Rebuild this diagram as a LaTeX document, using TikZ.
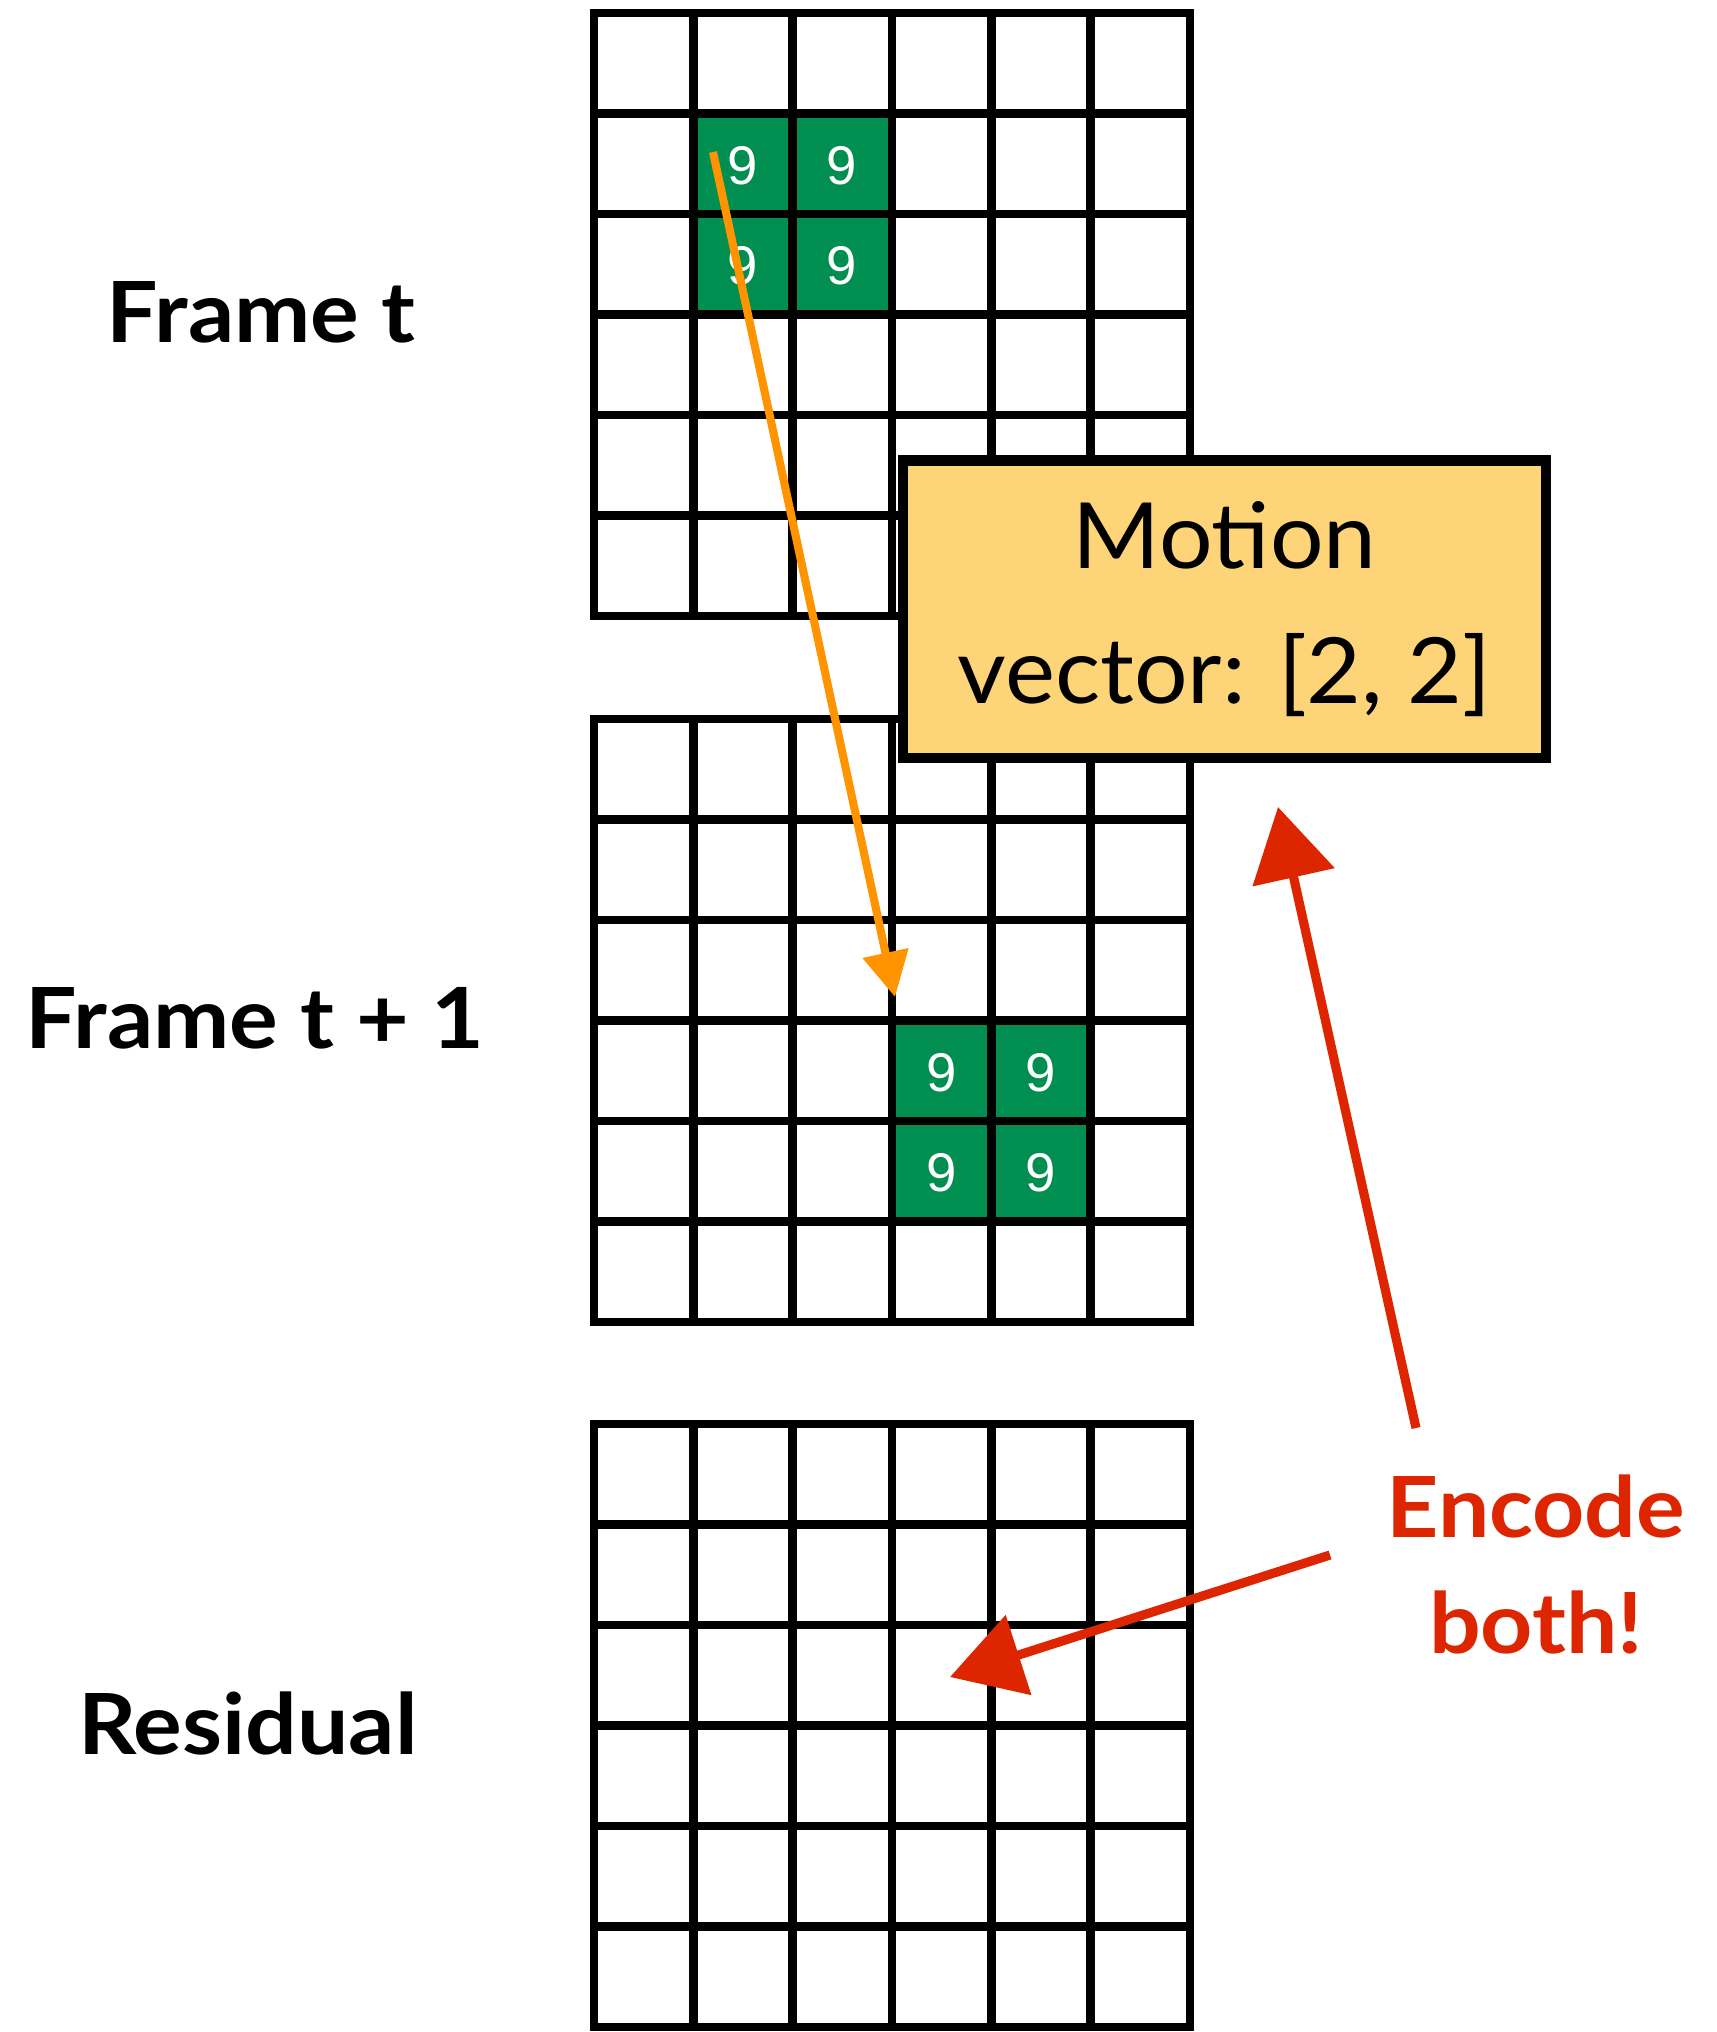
\documentclass[tikz,border=0pt]{standalone}
\usepackage{fontspec}
\setmainfont{Lato}
\newfontfamily\digitfont{Liberation Sans}
\newfontfamily\labelfont{Lato}[FakeStretch=1.08]
\newfontfamily\boxfont{Lato}[FakeStretch=1.035]
\usetikzlibrary{arrows.meta}
\definecolor{cellgreen}{RGB}{0,143,81}
\definecolor{boxyellow}{RGB}{254,212,121}
\definecolor{mvorange}{RGB}{255,147,0}
\definecolor{encred}{RGB}{221,37,0}

\begin{document}
\begin{tikzpicture}[x=1cm, y=-1cm,
  gridline/.style={line width=2.4pt, line cap=rect},
  cell9/.style={fill=cellgreen, text=white, inner sep=0pt,
    minimum width=0.993cm, minimum height=1.005cm,
    font=\digitfont\fontsize{15.5}{17}\selectfont},
  framelabel/.style={anchor=base, font=\labelfont\fontsize{24}{28}\selectfont\bfseries},
  mvbox/.style={draw, line width=2.85pt, fill=boxyellow, align=center, inner sep=0pt,
    minimum width=6.43cm, minimum height=2.97cm, font=\boxfont\fontsize{26}{38.5}\selectfont},
  enclabel/.style={align=center, text=encred, font=\labelfont\fontsize{24}{33}\selectfont\bfseries},
  mvarrow/.style={mvorange, line width=2.3pt, -{Triangle[length=4.5mm,width=4.5mm]}},
  encarrow/.style={encred, line width=2.6pt, -{Triangle[length=7.2mm,width=8.2mm]}}]
  \useasboundingbox (0,0) rectangle (17.16,20.32);

  \foreach \cx/\cy/\nm in {7.43/1.66/pa, 8.42/1.66/pb, 7.43/2.66/pc, 8.42/2.66/pd,
                           9.42/10.73/qa, 10.41/10.73/qb, 9.42/11.73/qc, 10.41/11.73/qd}
    \node[cell9] (\nm) at (\cx,\cy) {9};

  \foreach \top in {0.13,7.19,14.24}
    \foreach \i in {0,...,6} {
      \draw[gridline] ({5.94+\i*0.9933},\top) -- ++(0,6.03);
      \draw[gridline] (5.94,{\top+\i*1.005}) -- ++(5.96,0);
    }

  \node[framelabel] (lt) at (2.61,3.42) {Frame t};
  \node[framelabel] (lt1) at (2.55,10.48) {Frame t + 1};
  \node[framelabel] (lres) at (2.48,17.54) {Residual};

  \coordinate (mvtail) at (7.13,1.52);
  \coordinate (mvtip) at (8.95,9.97);
  \draw[mvarrow] (mvtail) -- (mvtip);

  \node[mvbox] (mv) at (12.245,6.09) {Motion\\vector: [2, 2]};

  \node[enclabel] (enc) at (15.36,15.64) {Encode\\both!};
  \coordinate (encA) at (14.16,14.28);
  \coordinate (encAtip) at (12.78,8.07);
  \coordinate (encB) at (13.30,15.55);
  \coordinate (encBtip) at (9.50,16.77);
  \draw[encarrow] (encA) -- (encAtip);
  \draw[encarrow] (encB) -- (encBtip);
\end{tikzpicture}
\end{document}
